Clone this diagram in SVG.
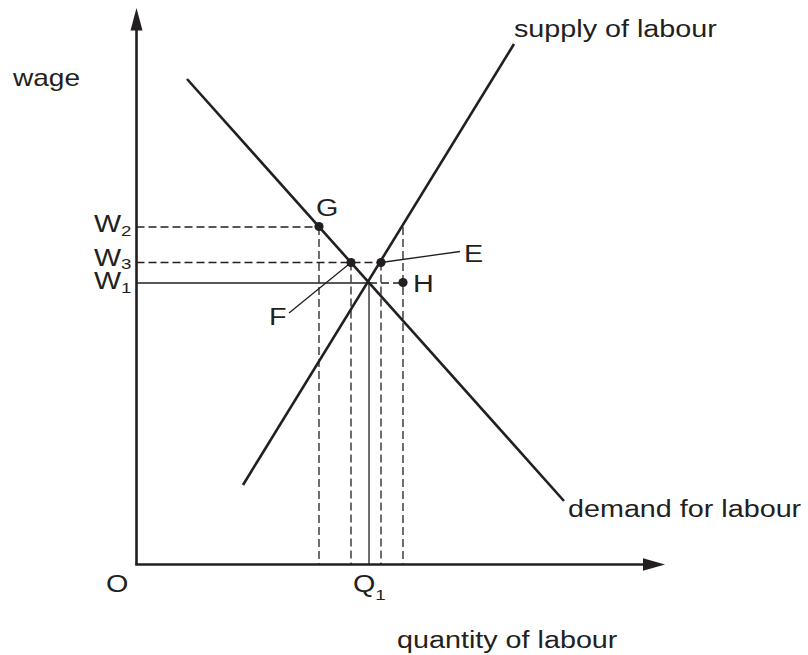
<svg xmlns="http://www.w3.org/2000/svg" width="808" height="655" viewBox="0 0 808 655">
<style>
.t{font-family:"Liberation Sans",Arial,sans-serif;font-size:23px;fill:#231f20}
.sub{font-size:15px}
.thick{stroke:#231f20;stroke-width:2.6;fill:none}
.thin{stroke:#231f20;stroke-width:1.3;fill:none}
.dash{stroke:#231f20;stroke-width:1.3;fill:none;stroke-dasharray:8 4}
.dot{fill:#231f20}
.head{fill:#231f20}
</style>
<rect width="808" height="655" fill="#ffffff"/>
<g id="axes">
  <line class="thick" x1="136.5" y1="564.5" x2="136.5" y2="28"/>
  <polygon class="head" points="136.5,8 130.5,30.5 142.5,30.5"/>
  <line class="thick" x1="135.2" y1="564.5" x2="645" y2="564.5"/>
  <polygon class="head" points="665,564.5 643,558.2 643,570.8"/>
  <text class="t" transform="translate(13,86) scale(1.22,1)">wage</text>
  <text class="t" transform="translate(397,648) scale(1.25,1)">quantity of labour</text>
  <text class="t" transform="translate(106,592) scale(1.25,1)">O</text>
</g>
<g id="connectors">
  <line class="dash" x1="136.5" y1="227" x2="319" y2="227"/>
  <line class="dash" x1="136.5" y1="262.5" x2="381" y2="262.5"/>
  <line class="thin" x1="136.5" y1="283" x2="369" y2="283"/>
  <line class="dash" x1="369" y1="283" x2="403" y2="283"/>
  <line class="dash" x1="319" y1="227" x2="319" y2="564"/>
  <line class="dash" x1="351" y1="262.5" x2="351" y2="564"/>
  <line class="dash" x1="381" y1="262.5" x2="381" y2="564"/>
  <line class="dash" x1="403" y1="227" x2="403" y2="564"/>
  <line class="thin" x1="369" y1="283" x2="369" y2="564"/>
  <line class="thin" x1="381" y1="262.5" x2="460" y2="251.5"/>
  <line class="thin" x1="351" y1="262.5" x2="289" y2="313"/>
</g>
<g id="demand">
  <line class="thick" x1="187" y1="79" x2="564" y2="501"/>
  <text class="t" transform="translate(568,517) scale(1.25,1)">demand for labour</text>
</g>
<g id="supply">
  <line class="thick" x1="243" y1="485" x2="514" y2="44"/>
  <text class="t" transform="translate(514,37) scale(1.25,1)">supply of labour</text>
</g>
<g id="W2"><text class="t" transform="translate(94,232) scale(1.25,1)">W<tspan class="sub" dy="4">2</tspan></text></g>
<g id="W3"><text class="t" transform="translate(94,265.5) scale(1.25,1)">W<tspan class="sub" dy="3.5">3</tspan></text></g>
<g id="W1"><text class="t" transform="translate(94,289) scale(1.25,1)">W<tspan class="sub" dy="4">1</tspan></text></g>
<g id="Q1"><text class="t" transform="translate(353,592) scale(1.25,1)">Q<tspan class="sub" dy="8">1</tspan></text></g>
<g id="G">
  <circle class="dot" cx="319" cy="226.5" r="4.6"/>
  <text class="t" transform="translate(316,216) scale(1.25,1)">G</text>
</g>
<g id="F">
  <circle class="dot" cx="351" cy="262.5" r="4.6"/>
  <text class="t" transform="translate(269,325) scale(1.25,1)">F</text>
</g>
<g id="E">
  <circle class="dot" cx="381" cy="262.5" r="4.6"/>
  <text class="t" transform="translate(464,262) scale(1.25,1)">E</text>
</g>
<g id="H">
  <circle class="dot" cx="403" cy="282.5" r="4.6"/>
  <text class="t" transform="translate(413,292) scale(1.25,1)">H</text>
</g>
</svg>
